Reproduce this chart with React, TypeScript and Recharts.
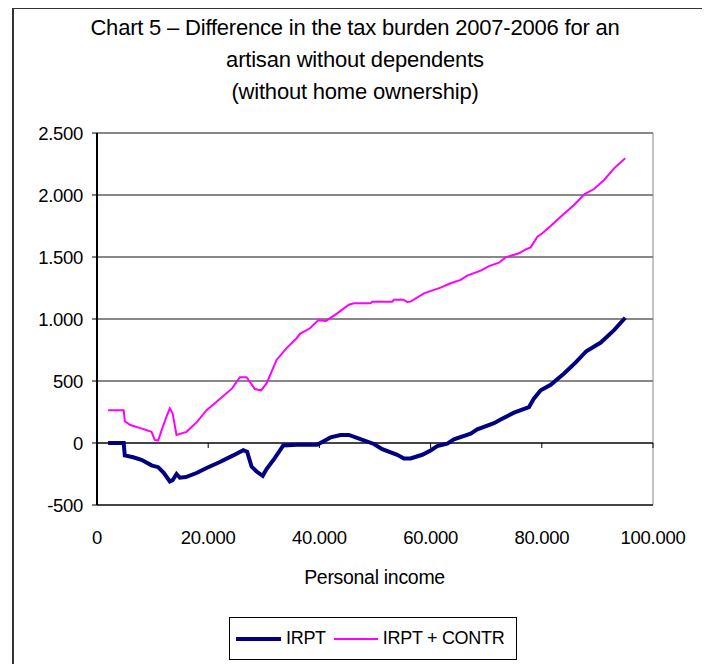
import React from "react"
import { LineChart, Line, XAxis, YAxis, CartesianGrid, ReferenceLine } from "recharts"

// income in euro, difference in euro
const irptIncome = [
  2000, 4800, 5000, 6500, 8000, 9800, 11000, 12000, 13100, 13600, 14300, 14900, 16000, 18000, 19800, 22000,
  24500, 26300, 27000, 27800, 28700, 29800, 30500, 32000, 33500, 36000, 39600, 41000, 42000, 43800, 45300,
  47500, 49800, 51300, 54000, 55200, 56400, 58500, 60000, 61200, 63000, 64200, 67200, 68400, 71400, 72600,
  75000, 77700, 78600, 79800, 81600, 84000, 86100, 88000, 90600, 93000, 95000,
]
const irptValues = [
  0, 0, -100, -115, -135, -180, -195, -240, -310, -300, -250, -280, -275, -240, -200, -155,
  -100, -58, -70, -190, -230, -265, -210, -120, -20, -15, -15, 20, 45, 65, 65,
  30, -8, -50, -95, -125, -125, -95, -60, -25, -5, 30, 75, 110, 160, 190,
  245, 290, 360, 425, 470, 560, 650, 740, 810, 910, 1010,
]

const contrIncome = [
  2000, 4800, 5000, 6000, 7800, 9800, 10400, 11000, 11600, 12400, 13100, 13600, 14300, 16100, 18000, 19700,
  21200, 24300, 25700, 26900, 28400, 29500, 30500, 32300, 34100, 35900, 36500, 38300, 39800, 41200, 43200,
  45300, 46200, 49200, 49500, 53100, 53400, 55100, 55800, 56400, 58800, 61800, 63600, 65400, 66600, 69000,
  70500, 72300, 73500, 75900, 77100, 78000, 79200, 80100, 81600, 83400, 85800, 87700, 89400, 91200, 93000,
  95000,
]
const contrValues = [
  265, 265, 175, 145, 120, 90, 25, 20, 100, 200, 280, 240, 65, 90, 170, 265,
  320, 440, 530, 530, 435, 425, 480, 670, 765, 845, 880, 925, 990, 985, 1045,
  1115, 1127, 1127, 1140, 1140, 1156, 1156, 1138, 1140, 1207, 1253, 1288, 1315, 1350, 1390,
  1427, 1454, 1497, 1530, 1562, 1578, 1664, 1691, 1750, 1825, 1919, 2008, 2048, 2121, 2215,
  2296,
]

const xTicks = [0, 20000, 40000, 60000, 80000, 100000]
const yTicks = [-500, 0, 500, 1000, 1500, 2000, 2500]

const seriesNames = ["IRPT", "IRPT + CONTR"]
const titleLines = [
  "Chart 5 \u2013 Difference in the tax burden 2007-2006 for an",
  "artisan without dependents",
  "(without home ownership)",
]
const xLabel = "Personal income"

const irptData = irptIncome.map((income, i) => ({ income, value: irptValues[i] }))
const contrData = contrIncome.map((income, i) => ({ income, value: contrValues[i] }))

const NAVY = "#000080"
const MAGENTA = "#FF00FF"
const FONT = "'Liberation Sans', Arial, sans-serif"
const TICK_FS = 18.5

const W = 702
const H = 656
const MARGIN = { top: 125, right: 57, bottom: 129, left: 29 }
const Y_AXIS_W = 60
const X_AXIS_H = 30
const PLOT_TOP = MARGIN.top
const PLOT_H = H - MARGIN.top - MARGIN.bottom - X_AXIS_H
const Y_MIN = -500
const Y_MAX = 2500
const ZERO_Y = PLOT_TOP + (PLOT_H * Y_MAX) / (Y_MAX - Y_MIN)

const fmt = (v: number) => String(v).replace(/\B(?=(\d{3})+(?!\d))/g, ".")

// label under the plot, plus the small tick on the zero line
const XTick = ({ x, y, payload }: any) => (
  <g>
    <line x1={x} x2={x} y1={ZERO_Y} y2={ZERO_Y + 5} stroke="#000" />
    <text x={x} y={y + 31} textAnchor="middle" fontSize={TICK_FS} fontFamily={FONT} fill="#000" letterSpacing={-0.3}>
      {fmt(payload.value)}
    </text>
  </g>
)

export default function App() {
  return (
    <div style={{ position: "relative", width: W, height: H, fontFamily: FONT }}>
      <div
        style={{
          position: "absolute",
          left: 4,
          top: -1,
          width: 696,
          height: 670,
          border: "2px solid #333",
          boxSizing: "border-box",
        }}
      />
      <div
        style={{
          position: "absolute",
          left: 0,
          top: 4,
          width: 694,
          textAlign: "center",
          fontSize: 22,
          lineHeight: "32px",
          color: "#000",
          letterSpacing: -0.2,
        }}
      >
        {titleLines.map((t) => (
          <div key={t}>{t}</div>
        ))}
      </div>

      <div style={{ position: "absolute", left: 0, top: 0 }}>
        <LineChart width={W} height={H} margin={MARGIN}>
          <CartesianGrid horizontal vertical={false} stroke="#111" />
          <XAxis
            type="number"
            dataKey="income"
            domain={[0, 100000]}
            ticks={xTicks}
            height={X_AXIS_H}
            tickLine={false}
            axisLine={{ stroke: "#000" }}
            tick={<XTick />}
            interval={0}
          />
          <YAxis
            type="number"
            dataKey="value"
            domain={[Y_MIN, Y_MAX]}
            ticks={yTicks}
            width={Y_AXIS_W}
            tickSize={5}
            tickMargin={9}
            interval={0}
            axisLine={{ stroke: "#000", strokeWidth: 2 }}
            tickLine={{ stroke: "#000" }}
            tick={{ fontSize: TICK_FS, fill: "#000", fontFamily: FONT, letterSpacing: -0.3 }}
            tickFormatter={fmt}
          />
          <ReferenceLine x={100000} stroke="#888" />
          <ReferenceLine y={0} stroke="#000" />
          <Line
            data={contrData}
            dataKey="value"
            name={seriesNames[1]}
            type="linear"
            stroke={MAGENTA}
            strokeWidth={2}
            dot={false}
            isAnimationActive={false}
          />
          <Line
            data={irptData}
            dataKey="value"
            name={seriesNames[0]}
            type="linear"
            stroke={NAVY}
            strokeWidth={4}
            dot={false}
            isAnimationActive={false}
          />
        </LineChart>
      </div>

      <div
        style={{
          position: "absolute",
          left: 0,
          top: 558,
          width: 733,
          textAlign: "center",
          fontSize: 19.5,
          letterSpacing: -0.3,
        }}
      >
        {xLabel}
      </div>

      <div
        style={{
          position: "absolute",
          left: 221,
          top: 609,
          width: 288,
          height: 43,
          border: "1px solid #000",
          boxSizing: "border-box",
          display: "flex",
          alignItems: "center",
          fontSize: 18,
          letterSpacing: -0.3,
        }}
      >
        <span style={{ display: "inline-block", width: 45, height: 4, background: NAVY, marginLeft: 6 }} />
        <span style={{ marginLeft: 5 }}>{seriesNames[0]}</span>
        <span style={{ display: "inline-block", width: 44, height: 2, background: MAGENTA, marginLeft: 8 }} />
        <span style={{ marginLeft: 5 }}>{seriesNames[1]}</span>
      </div>
    </div>
  )
}
